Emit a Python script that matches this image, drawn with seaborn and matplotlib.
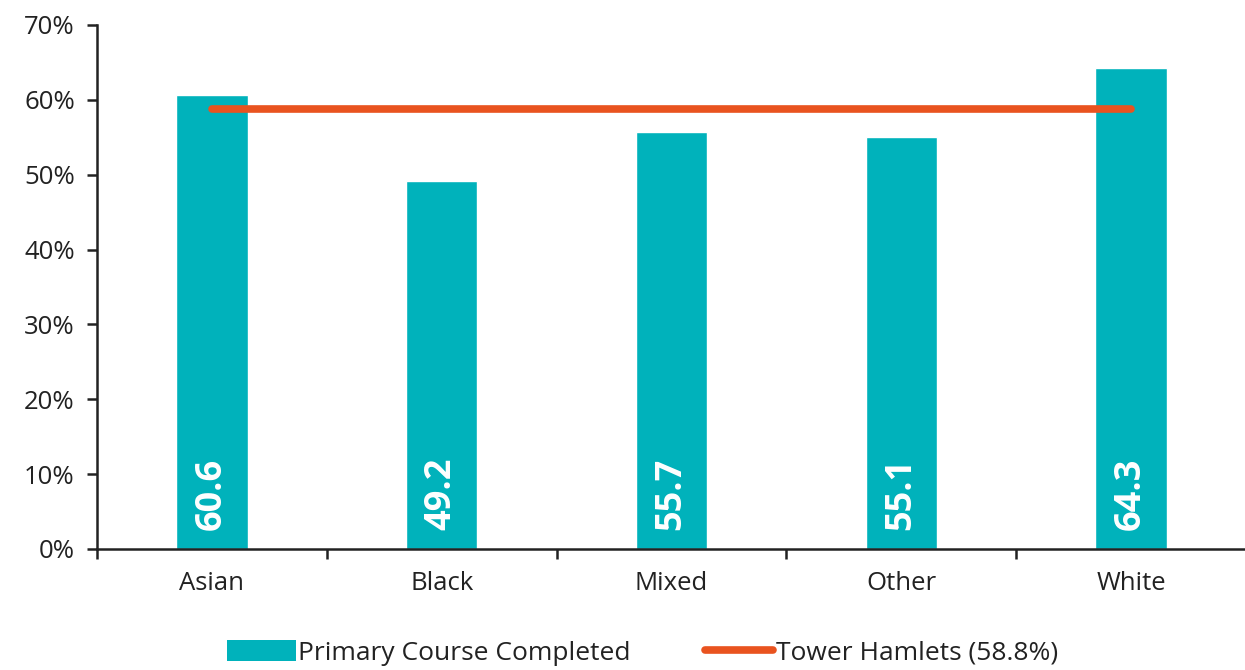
import numpy as np
import pandas as pd
import seaborn as sns
import matplotlib.pyplot as plt
from matplotlib.patches import Patch
from matplotlib.lines import Line2D
from matplotlib.ticker import FixedLocator, PercentFormatter

groups = ["Asian", "Black", "Mixed", "Other", "White"]
completed = [60.6, 49.2, 55.7, 55.1, 64.3]
borough_avg = 58.8

bar_color = "#00B2BB"
line_color = "#E9531F"

sns.set_style("white")
plt.rcParams["font.family"] = ["Open Sans", "DejaVu Sans"]

df = pd.DataFrame({"group": groups, "pct": completed})

fig = plt.figure(figsize=(12.45, 6.7), dpi=100)
ax = fig.add_axes([97 / 1245, 1 - 549 / 670, (1246 - 97) / 1245, (549 - 25) / 670])

sns.barplot(df, x="group", y="pct", color=bar_color, saturation=1, width=0.31, ax=ax)

# borough average line from first to last category centre
ax.plot([0, len(groups) - 1], [borough_avg] * 2, color=line_color, lw=5.5,
        solid_capstyle="round", zorder=3)

for i, v in enumerate(completed):
    ax.text(i, 2.6, f"{v}", rotation=90, ha="center", va="bottom",
            color="white", fontsize=26, fontweight="bold")

ax.set_xlim(-0.5, len(groups) - 0.5)
ax.set_ylim(0, 70)
ax.set_yticks(np.arange(0, 71, 10))
ax.yaxis.set_major_formatter(PercentFormatter(decimals=0))
ax.set_xlabel("")
ax.set_ylabel("")

for s in ["top", "right"]:
    ax.spines[s].set_visible(False)
for s in ["left", "bottom"]:
    ax.spines[s].set_color("#222222")
    ax.spines[s].set_linewidth(1.8)

ax.tick_params(axis="y", left=True, length=7, width=1.8, color="#222222",
               labelsize=18.5, labelcolor="#222222", pad=9)
ax.tick_params(axis="x", which="major", length=0, labelsize=18.5,
               labelcolor="#222222", pad=16)
ax.xaxis.set_minor_locator(FixedLocator(np.arange(-0.5, len(groups), 1.0)))
ax.tick_params(axis="x", which="minor", bottom=True, length=7, width=1.8,
               color="#222222")

handles = [Patch(facecolor=bar_color, edgecolor="none"),
           Line2D([0], [0], color=line_color, lw=5.5, solid_capstyle="round")]
fig.legend(handles, ["Primary Course Completed", "Tower Hamlets (58.8%)"],
           loc="center", bbox_to_anchor=(0.516, 1 - 653 / 670), ncol=2,
           frameon=False, fontsize=19, handlelength=2.6, handleheight=0.85,
           handletextpad=0.1, columnspacing=2.8, labelcolor="#222222")

fig.savefig("out.png", dpi=100)
